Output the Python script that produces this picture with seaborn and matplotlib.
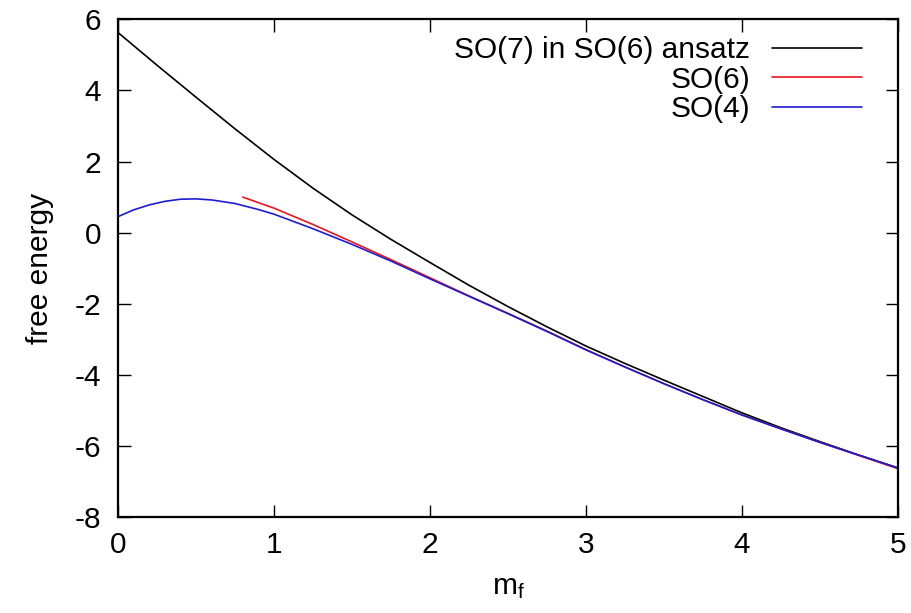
import numpy as np
import pandas as pd
import seaborn as sns
import matplotlib
matplotlib.use("Agg")
import matplotlib.pyplot as plt

# values
m_so7 = [0.0, 0.25, 0.5, 0.75, 1.0, 1.25, 1.5, 1.75, 2.0, 2.25, 2.5, 2.75,
         3.0, 3.25, 3.5, 3.75, 4.0, 4.25, 4.5, 4.75, 5.0]
f_so7 = [5.63, 4.71, 3.81, 2.92, 2.06, 1.25, 0.5, -0.19, -0.84, -1.48, -2.08, -2.65,
         -3.19, -3.68, -4.15, -4.61, -5.07, -5.49, -5.88, -6.26, -6.62]

m_so6 = [0.8, 1.0, 1.25, 1.5, 1.75, 2.0, 2.25, 2.5, 2.75, 3.0, 3.25, 3.5,
         3.75, 4.0, 4.25, 4.5, 4.75, 5.0]
f_so6 = [1.0, 0.69, 0.23, -0.26, -0.76, -1.27, -1.78, -2.27, -2.77, -3.29,
         -3.78, -4.25, -4.7, -5.13, -5.52, -5.9, -6.27, -6.64]

m_so4 = [0.0, 0.1, 0.2, 0.3, 0.4, 0.5, 0.6, 0.75, 0.9, 1.0, 1.25, 1.5, 1.75, 2.0,
         2.25, 2.5, 2.75, 3.0, 3.25, 3.5, 3.75, 4.0, 4.25, 4.5, 4.75, 5.0]
f_so4 = [0.45, 0.64, 0.78, 0.88, 0.94, 0.95, 0.92, 0.82, 0.65, 0.52, 0.11, -0.33,
         -0.8, -1.3, -1.79, -2.28, -2.78, -3.3, -3.78, -4.25, -4.7, -5.13,
         -5.52, -5.9, -6.26, -6.62]

labels = ["SO(7) in SO(6) ansatz", "SO(6)", "SO(4)"]
colors = ["black", "#e8141e", "#1c1cd0"]

df = pd.concat([
    pd.DataFrame({"m": m_so7, "f": f_so7, "series": labels[0]}),
    pd.DataFrame({"m": m_so6, "f": f_so6, "series": labels[1]}),
    pd.DataFrame({"m": m_so4, "f": f_so4, "series": labels[2]}),
])

sns.set_theme(style="ticks")
plt.rcParams["font.family"] = ["Liberation Sans", "DejaVu Sans"]
plt.rcParams["mathtext.default"] = "regular"
plt.rcParams["axes.unicode_minus"] = False
plt.rcParams["text.color"] = "black"
plt.rcParams["axes.labelcolor"] = "black"
plt.rcParams["xtick.color"] = "black"
plt.rcParams["ytick.color"] = "black"
plt.rcParams["axes.edgecolor"] = "black"

fs = 21.5

fig = plt.figure(figsize=(9.12, 6.13), dpi=100)
ax = fig.add_axes([0.1294, 0.1566, 0.8552, 0.8118])

sns.lineplot(data=df, x="m", y="f", hue="series", hue_order=labels,
             palette=dict(zip(labels, colors)), linewidth=1.2, ax=ax,
             sort=False, estimator=None)
for ln in ax.get_lines():
    ln.set_solid_joinstyle("round")

ax.set_xlim(0, 5)
ax.set_ylim(-8, 6)
ax.set_xticks(range(0, 6))
ax.set_yticks(range(-8, 7, 2))
ax.tick_params(direction="in", length=9, width=1, top=True, right=True,
               labelsize=fs, pad=10)
ax.tick_params(axis="y", pad=12)
for s in ax.spines.values():
    s.set_linewidth(1.6)
    s.set_visible(True)

ax.set_xlabel(r"$m_f$", fontsize=fs, labelpad=10)
ax.set_ylabel("free energy", fontsize=fs, labelpad=15)

ax.legend(loc="upper right", bbox_to_anchor=(0.954, 0.966), frameon=False,
          fontsize=fs, markerfirst=False, handlelength=3.0,
          handletextpad=0.75, labelspacing=0.05, borderaxespad=0, borderpad=0)

fig.savefig("out.png", dpi=100)
